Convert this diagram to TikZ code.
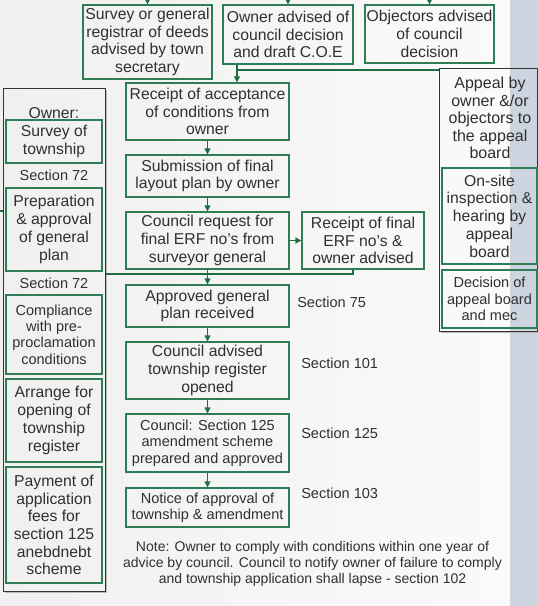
\documentclass[tikz,border=0pt]{standalone}
\usepackage{fontspec}
\setmainfont{Liberation Sans}
\usetikzlibrary{arrows.meta}

\definecolor{boxgreen}{HTML}{2E7D55}
\definecolor{linegreen}{HTML}{1F6E43}
\definecolor{ink}{HTML}{303030}
\definecolor{panelline}{HTML}{333333}
\definecolor{band}{HTML}{CCD4DF}
\definecolor{paperL}{HTML}{F0F0F0}
\definecolor{paperR}{HTML}{FAFAFA}

\tikzset{
  sz/.style 2 args={minimum width=#1*0.75pt, minimum height=#2*0.75pt},
  stage/.style={draw=boxgreen, line width=0.9pt, inner sep=0pt, align=center,
    text=ink, font=\fontsize{11.8}{13.3}\selectfont},
  stagesm/.style={stage, font=\fontsize{10.9}{12.2}\selectfont},
  panelbox/.style={draw=panelline, line width=0.75pt, inner sep=0pt},
  panelshadow/.style={draw=black!28, line width=0.9pt},
  plain/.style={text=ink, inner sep=0pt, align=center, font=\fontsize{11.8}{13.3}\selectfont},
  seclbl/.style={text=ink, inner sep=0pt, font=\fontsize{10.9}{12.2}\selectfont},
  notetxt/.style={text=ink, inner sep=0pt, align=center, font=\fontsize{10.5}{12.2}\selectfont},
  flow/.style={draw=linegreen, line width=0.9pt, -{Triangle[width=4.5pt,length=4.5pt]}},
  link/.style={draw=linegreen, line width=0.9pt},
}

\begin{document}
\begin{tikzpicture}[x=0.75pt, y=-0.75pt]
  % page and side band
  \shade[left color=paperL, right color=paperR] (0,0) rectangle (510,606);
  \fill[band] (510,0) rectangle (538,606);
  \useasboundingbox (0,0) rectangle (538,606);
  \coordinate (topedge) at (0,0);

  % top row of notices
  \node[stage, sz={129}{74}] (srv) at (147.5,42) {Survey or general\\registrar of deeds\\advised by town\\secretary};
  \node[stage, sz={130}{59}] (own) at (288,34.5) {Owner advised of\\council decision\\and draft C.O.E};
  \node[stage, sz={129}{58}] (obj) at (429.5,34) {Objectors advised\\of council\\decision};

  % main sequence
  \node[stage, sz={163}{57}] (rac) at (207.5,111.5) {Receipt of acceptance\\of conditions from\\owner};
  \node[stage, sz={163}{42}] (sub) at (207.5,176) {Submission of final\\layout plan by owner};
  \node[stage, sz={163}{57}] (req) at (207.5,240.5) {Council request for\\final ERF no's from\\surveyor general};
  \node[stage, sz={122}{57}] (erf) at (363,240.5) {Receipt of final\\ERF no's \&\\owner advised};
  \node[stage, sz={163}{42}] (apg) at (207.5,306) {Approved general\\plan received};
  \node[stage, sz={163}{57}] (cat) at (207.5,370.5) {Council advised\\township register\\opened};
  \node[stagesm, sz={163}{58}] (amd) at (207.5,443) {Council: Section 125\\amendment scheme\\prepared and approved};
  \node[stagesm, sz={163}{39}] (ntc) at (207.5,507.5) {Notice of approval of\\township \& amendment};

  % section references
  \node[seclbl, anchor=west] (s75) at (297,302) {Section 75};
  \node[seclbl, anchor=west] (s101) at (301,363) {Section 101};
  \node[seclbl, anchor=west] (s125) at (301,433) {Section 125};
  \node[seclbl, anchor=west] (s103) at (301,493) {Section 103};

  \node[notetxt] (note) at (312.5,564) {Note: Owner to comply with conditions within one year of\\advice by council. Council to notify owner of failure to comply\\and township application shall lapse - section 102};

  % owner panel
  \node[panelbox, sz={102}{502}] (lp) at (54,340) {};
  \draw[panelshadow] ([shift={(1.2,2)}]lp.north east) -- ([shift={(1.2,1.2)}]lp.south east) -- ([shift={(2,1.2)}]lp.south west);
  \node[plain] (ownlbl) at (54,113) {Owner:};
  \node[stage, sz={96}{43}] (svy) at (54,141.5) {Survey of\\township};
  \node[seclbl] (s72a) at (54,175) {Section 72};
  \node[stage, sz={96}{83}] (prep) at (54,229.5) {Preparation\\\& approval\\of general\\plan};
  \node[seclbl] (s72b) at (54,283) {Section 72};
  \node[stagesm, sz={96}{79}] (comp) at (54,334.5) {Compliance\\with pre-\\proclamation\\conditions};
  \node[stage, sz={96}{83}] (arr) at (54,420.5) {Arrange for\\opening of\\township\\register};
  \node[stage, sz={96}{116}] (pay) at (54,525) {Payment of\\application\\fees for\\section 125\\anebdnebt\\scheme};

  % appeal panel
  \node[panelbox, sz={98.5}{262}] (app) at (488.25,200) {};
  \draw[panelshadow] ([shift={(2,1.2)}]app.south west) -- ([shift={(0,1.2)}]app.south east);
  \node[plain, font=\fontsize{12}{13.2}\selectfont] (apptxt) at (490,118) {Appeal by\\owner \&/or\\objectors to\\the appeal\\board};
  \node[stage, sz={95}{96}] (site) at (489.5,216) {On-site\\inspection \&\\hearing by\\appeal\\board};
  \node[stagesm, sz={95}{58}] (dec) at (489.5,299) {Decision of\\appeal board\\and mec};

  % connectors
  \draw[flow] (srv.north |- topedge) -- (srv.north);
  \draw[flow] (own.north |- topedge) -- (own.north);
  \draw[flow] (obj.north |- topedge) -- (obj.north);

  \coordinate (j1) at (237,70);
  \draw[link] (own.south -| j1) -- (j1);
  \draw[flow] (j1) -- (rac.north -| j1);
  \draw[link] (j1) -- (j1 -| app.west);

  \draw[flow] (rac.south) -- (sub.north);
  \draw[flow] (sub.south) -- (req.north);
  \draw[flow] (req.east) -- (erf.west);
  \draw[flow] (req.south) -- (apg.north);
  \draw[flow] (apg.south) -- (cat.north);
  \draw[flow] (cat.south) -- (amd.north);
  \draw[flow] (amd.south) -- (ntc.north);

  \coordinate (j2) at (353,274);
  \draw[link] (erf.south -| j2) -- (j2) -- (j2 -| lp.east);

  \coordinate (stub) at (0,211);
  \draw[link] (stub) -- (stub -| lp.west);
\end{tikzpicture}
\end{document}
